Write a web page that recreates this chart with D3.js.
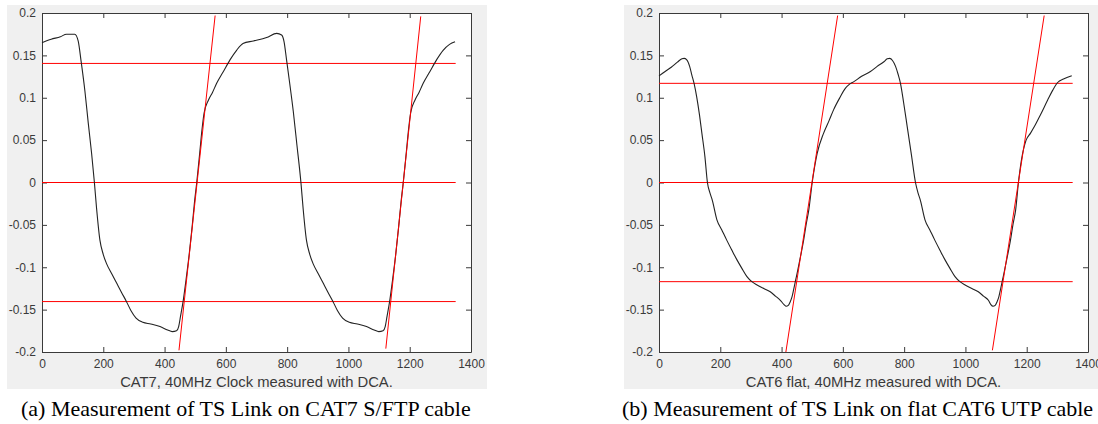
<!DOCTYPE html>
<html>
<head>
<meta charset="utf-8">
<script src="https://cdn.jsdelivr.net/npm/d3@7"></script>
<style>
  body { margin: 0; background: #fff; }
  svg { display: block; }
  .tick text { font-family: "Liberation Sans", Arial, sans-serif; font-size: 12px; fill: #3a3a3a; }
  .axis path, .axis line { stroke: #3a3a3a; }
</style>
</head>
<body>
<div id="chart"></div>
<script>
const xTicks = [0, 200, 400, 600, 800, 1000, 1200, 1400];
const yTicks = [-0.2, -0.15, -0.1, -0.05, 0, 0.05, 0.1, 0.15, 0.2];

// CAT7 S/FTP waveform, [sample, volts]
const cat7Wave = [
  [0, 0.165], [30, 0.169], [60, 0.172], [80, 0.175], [107, 0.175], [118, 0.167], [128, 0.142],
  [140, 0.108], [151, 0.07], [162, 0.034], [171, 0], [178, -0.03], [189, -0.068], [200, -0.085],
  [211, -0.096], [228, -0.108], [244, -0.119], [260, -0.13], [275, -0.14], [290, -0.151],
  [307, -0.16], [329, -0.165], [355, -0.167], [385, -0.17], [410, -0.174], [425, -0.176],
  [439, -0.175], [446, -0.17], [452, -0.158], [461, -0.139], [470, -0.115], [480, -0.086],
  [490, -0.052], [498, -0.022], [505, 0], [515, 0.036], [522, 0.062], [529, 0.082], [543, 0.097],
  [556, 0.106], [570, 0.117], [592, 0.131], [614, 0.145], [635, 0.156], [656, 0.164], [690, 0.167],
  [733, 0.171], [766, 0.176], [782, 0.174], [790, 0.166], [798, 0.145], [808, 0.118], [820, 0.084],
  [832, 0.044], [845, 0], [852, -0.03], [863, -0.068], [874, -0.085], [885, -0.096], [902, -0.108],
  [918, -0.119], [934, -0.13], [949, -0.14], [964, -0.151], [981, -0.16], [1003, -0.165],
  [1029, -0.167], [1059, -0.17], [1084, -0.174], [1099, -0.176], [1113, -0.175], [1120, -0.17],
  [1126, -0.158], [1135, -0.139], [1144, -0.115], [1154, -0.086], [1164, -0.052], [1172, -0.022],
  [1179, 0], [1189, 0.036], [1196, 0.062], [1203, 0.082], [1217, 0.097], [1230, 0.106],
  [1244, 0.117], [1266, 0.131], [1288, 0.145], [1309, 0.156], [1330, 0.163], [1348, 0.166]
];

// flat CAT6 UTP waveform
const cat6Wave = [
  [0, 0.1257], [20, 0.131], [40, 0.136], [60, 0.142], [75, 0.146], [82, 0.1465], [90, 0.145],
  [100, 0.137], [107, 0.127], [115, 0.116], [123, 0.101], [132, 0.08], [140, 0.058], [150, 0.03],
  [158, 0], [166, -0.012], [174, -0.021], [189, -0.044], [205, -0.056], [221, -0.068], [238, -0.08],
  [254, -0.091], [270, -0.101], [287, -0.111], [303, -0.117], [320, -0.121], [342, -0.125],
  [363, -0.129], [380, -0.134], [396, -0.139], [408, -0.144], [415, -0.146], [422, -0.145],
  [428, -0.141], [434, -0.135], [439, -0.127], [446, -0.115], [452, -0.105], [462, -0.087],
  [472, -0.068], [480, -0.05], [489, -0.032], [500, 0], [516, 0.034], [537, 0.058], [555, 0.073],
  [570, 0.086], [590, 0.1], [608, 0.111], [622, 0.116], [636, 0.119], [660, 0.125], [690, 0.131],
  [712, 0.137], [734, 0.1425], [745, 0.146], [753, 0.1465], [762, 0.144], [772, 0.137],
  [780, 0.128], [788, 0.117], [798, 0.095], [810, 0.066], [824, 0.032], [837, 0], [845, -0.012],
  [853, -0.021], [868, -0.044], [884, -0.056], [900, -0.068], [917, -0.08], [933, -0.091],
  [949, -0.101], [966, -0.111], [982, -0.117], [999, -0.121], [1021, -0.125], [1042, -0.129],
  [1059, -0.134], [1075, -0.139], [1083, -0.144], [1090, -0.146], [1097, -0.145], [1103, -0.141],
  [1109, -0.135], [1114, -0.127], [1121, -0.115], [1127, -0.105], [1137, -0.087], [1147, -0.068],
  [1155, -0.05], [1164, -0.032], [1173, 0], [1183, 0.027], [1198, 0.05], [1212, 0.058],
  [1225, 0.066], [1245, 0.08], [1268, 0.097], [1285, 0.109], [1301, 0.118], [1320, 0.122],
  [1347, 0.126]
];

// red reference lines
const cat7Levels = [0.1405, 0, -0.1405];
const cat6Levels = [0.117, 0, -0.117];
const levelSpan = [0, 1350];
const cat7Slopes = [[[447, -0.198], [565, 0.197]], [[1122, -0.196], [1236, 0.196]]];
const cat6Slopes = [[[414, -0.2], [583, 0.197]], [[1088, -0.198], [1257, 0.197]]];

const xLabels = ['CAT7, 40MHz Clock measured with DCA.', 'CAT6 flat, 40MHz measured with DCA.'];
const captions = ['(a) Measurement of TS Link on CAT7 S/FTP cable', '(b) Measurement of TS Link on flat CAT6 UTP cable'];

const svg = d3.select('#chart').append('svg')
  .attr('width', 1098)
  .attr('height', 424);

function drawPanel(ox, wave, levels, slopes, xLabel, caption, captionX) {
  const g = svg.append('g').attr('transform', `translate(${ox},0)`);
  const left = 35, right = 464, top = 13, bottom = 352;

  g.append('rect')
    .attr('x', 0).attr('y', 5)
    .attr('width', 480).attr('height', 384)
    .attr('fill', '#f0f0f0');
  g.append('rect')
    .attr('x', left).attr('y', top)
    .attr('width', right - left).attr('height', bottom - top)
    .attr('fill', '#fff');

  const x = d3.scaleLinear().domain([0, 1400]).range([left, right]);
  const y = d3.scaleLinear().domain([-0.2, 0.2]).range([bottom, top]);
  const fmt = d => String(d);

  g.append('g').attr('class', 'axis')
    .attr('transform', `translate(0,${bottom})`)
    .call(d3.axisBottom(x).tickValues(xTicks).tickFormat(fmt).tickSizeInner(-5).tickSizeOuter(0).tickPadding(7));
  g.append('g').attr('class', 'axis')
    .attr('transform', `translate(0,${top})`)
    .call(d3.axisTop(x).tickValues(xTicks).tickFormat('').tickSizeInner(-5).tickSizeOuter(0));
  g.append('g').attr('class', 'axis')
    .attr('transform', `translate(${left},0)`)
    .call(d3.axisLeft(y).tickValues(yTicks).tickFormat(fmt).tickSizeInner(-5).tickSizeOuter(0).tickPadding(6));
  g.append('g').attr('class', 'axis')
    .attr('transform', `translate(${right},0)`)
    .call(d3.axisRight(y).tickValues(yTicks).tickFormat('').tickSizeInner(-5).tickSizeOuter(0));

  const line = d3.line().x(d => x(d[0])).y(d => y(d[1]));

  g.selectAll('.level')
    .data(levels)
    .enter()
    .append('line')
    .attr('class', 'level')
    .attr('x1', x(levelSpan[0])).attr('x2', x(levelSpan[1]))
    .attr('y1', d => y(d)).attr('y2', d => y(d))
    .attr('stroke', '#ff0000')
    .attr('stroke-width', 1);

  g.append('path')
    .datum(wave)
    .attr('d', line.curve(d3.curveMonotoneX))
    .attr('fill', 'none')
    .attr('stroke', '#222')
    .attr('stroke-width', 1.1);

  g.selectAll('.slope')
    .data(slopes)
    .enter()
    .append('path')
    .attr('class', 'slope')
    .attr('d', d => d3.line().x(p => x(p[0])).y(p => y(p[1]))(d))
    .attr('stroke', '#ff0000')
    .attr('stroke-width', 1);

  g.append('text')
    .attr('x', (left + right) / 2)
    .attr('y', 387)
    .attr('text-anchor', 'middle')
    .attr('font-family', '"Liberation Sans", Arial, sans-serif')
    .attr('font-size', 14.8)
    .attr('fill', '#3a3a3a')
    .text(xLabel);

  g.append('text')
    .attr('x', captionX)
    .attr('y', 416)
    .attr('font-family', '"Liberation Serif", "Times New Roman", serif')
    .attr('font-size', 22)
    .attr('fill', '#000')
    .text(caption);
}

drawPanel(7, cat7Wave, cat7Levels, cat7Slopes, xLabels[0], captions[0], 14);
drawPanel(624, cat6Wave, cat6Levels, cat6Slopes, xLabels[1], captions[1], -2);
</script>
</body>
</html>
